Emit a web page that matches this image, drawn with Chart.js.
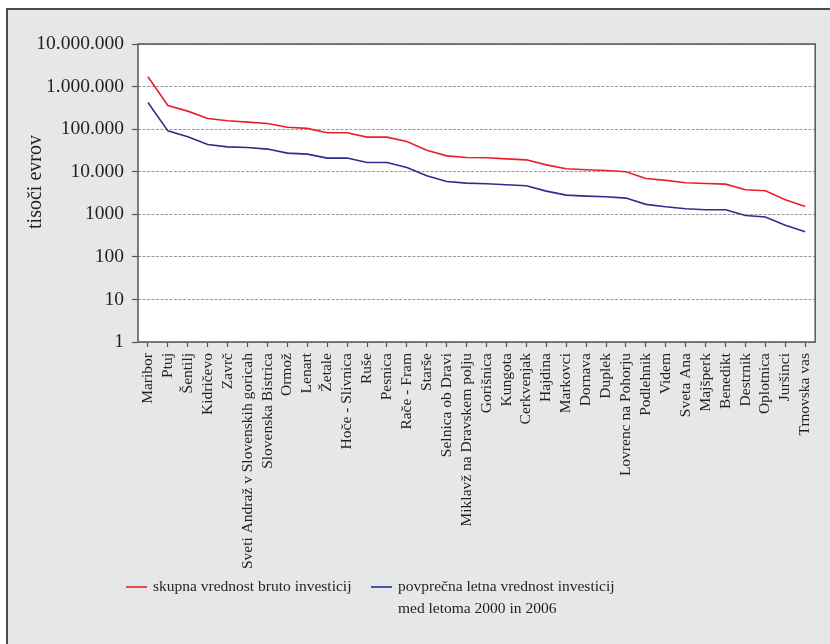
<!DOCTYPE html>
<html>
<head>
<meta charset="utf-8">
<script src="https://cdn.jsdelivr.net/npm/chart.js@4/dist/chart.umd.min.js"></script>
<style>
    html, body { margin: 0; padding: 0; background: #ffffff; }
    #frame {
        position: absolute; left: 6px; top: 8px;
        width: 824px; height: 636px; box-sizing: border-box;
        background: #e6e7e8;
        border-left: 2px solid #4a4a4a; border-top: 2px solid #4a4a4a;
    }
    #chart { display: block; }
</style>
</head>
<body>
<div id="frame"><canvas id="chart" width="822" height="634"></canvas></div>
<script>
// data
const categories = ['Maribor', 'Ptuj', 'Šentilj', 'Kidričevo', 'Zavrč', 'Sveti Andraž v Slovenskih goricah',
    'Slovenska Bistrica', 'Ormož', 'Lenart', 'Žetale', 'Hoče - Slivnica', 'Ruše', 'Pesnica', 'Rače - Fram',
    'Starše', 'Selnica ob Dravi', 'Miklavž na Dravskem polju', 'Gorišnica', 'Kungota', 'Cerkvenjak', 'Hajdina',
    'Markovci', 'Dornava', 'Duplek', 'Lovrenc na Pohorju', 'Podlehnik', 'Videm', 'Sveta Ana', 'Majšperk',
    'Benedikt', 'Destrnik', 'Oplotnica', 'Juršinci', 'Trnovska vas'];

const totalInvest = [1700000, 360000, 265000, 178000, 157000, 146000, 136000, 111000, 104000, 82000,
    82000, 65000, 65000, 51000, 32000, 23600, 21600, 21200, 20000, 19000, 14500, 11700, 11100, 10700,
    9950, 6950, 6250, 5500, 5300, 5100, 3760, 3560, 2190, 1530];

const avgInvest = [424000, 91000, 66000, 43700, 38400, 37200, 34000, 27300, 25900, 20900,
    20900, 16500, 16500, 12600, 8000, 5900, 5400, 5200, 4930, 4670, 3500, 2820, 2670, 2580,
    2400, 1710, 1500, 1350, 1280, 1280, 940, 860, 550, 389];

const yTicks = [1, 10, 100, 1000, 10000, 100000, 1000000, 10000000];
const yTickLabels = ['1', '10', '100', '1000', '10.000', '100.000', '1.000.000', '10.000.000'];

const yTitle = 'tisoči evrov';
const legendTotal = ['skupna vrednost bruto investicij'];
const legendAvg = ['povprečna letna vrednost investicij', 'med letoma 2000 in 2006'];

const serif = '"Liberation Serif", "DejaVu Serif", serif';
const textColor = '#231f20';

// plot background, frame, y title and legend
const decor = {
    id: 'decor',
    beforeDraw(chart) {
        const a = chart.chartArea, ctx = chart.ctx;
        ctx.save();
        ctx.fillStyle = '#ffffff';
        ctx.fillRect(a.left, a.top, a.right - a.left, a.bottom - a.top);
        ctx.restore();
    },
    beforeDatasetsDraw(chart) {
        const a = chart.chartArea, ctx = chart.ctx;
        ctx.save();
        ctx.strokeStyle = '#555555';
        ctx.lineWidth = 1.5;
        ctx.strokeRect(a.left, a.top, a.right - a.left, a.bottom - a.top);
        ctx.restore();
    },
    afterDraw(chart) {
        const ctx = chart.ctx;
        ctx.save();
        ctx.fillStyle = textColor;
        // y title
        ctx.font = '20px ' + serif;
        ctx.translate(28, 172);
        ctx.rotate(-Math.PI / 2);
        ctx.textAlign = 'center';
        ctx.textBaseline = 'middle';
        ctx.fillText(yTitle, 0, 0);
        ctx.restore();

        // legend
        const items = [
            { x: 118, lines: legendTotal, ds: chart.data.datasets[0] },
            { x: 363, lines: legendAvg, ds: chart.data.datasets[1] }
        ];
        const y0 = 577, lh = 22;
        ctx.save();
        ctx.font = '15.5px ' + serif;
        ctx.textBaseline = 'middle';
        ctx.textAlign = 'left';
        items.forEach(it => {
            ctx.strokeStyle = it.ds.borderColor;
            ctx.lineWidth = 1.6;
            ctx.beginPath();
            ctx.moveTo(it.x, y0);
            ctx.lineTo(it.x + 21, y0);
            ctx.stroke();
            ctx.fillStyle = textColor;
            it.lines.forEach((t, i) => ctx.fillText(t, it.x + 27, y0 + i * lh));
        });
        ctx.restore();
    }
};

new Chart(document.getElementById('chart'), {
    type: 'line',
    data: {
        labels: categories,
        datasets: [
            {
                label: legendTotal.join(' '),
                data: totalInvest,
                borderColor: '#e8202a',
                borderWidth: 1.6,
                pointRadius: 0,
                tension: 0
            },
            {
                label: legendAvg.join(' '),
                data: avgInvest,
                borderColor: '#2b2e8c',
                borderWidth: 1.6,
                pointRadius: 0,
                tension: 0
            }
        ]
    },
    options: {
        responsive: false,
        animation: false,
        layout: { padding: { left: 0, right: 12, top: 34, bottom: 0 } },
        plugins: {
            legend: { display: false },
            tooltip: { enabled: false }
        },
        scales: {
            x: {
                type: 'category',
                offset: true,
                grid: {
                    offset: false,
                    drawOnChartArea: false,
                    tickLength: 5,
                    tickColor: '#555555',
                    tickWidth: 1.2
                },
                border: { display: false },
                ticks: {
                    autoSkip: false,
                    minRotation: 90,
                    maxRotation: 90,
                    padding: 6,
                    color: textColor,
                    font: { family: serif, size: 15.5 }
                },
                afterFit(scale) { scale.height = 302; }
            },
            y: {
                type: 'logarithmic',
                min: 1,
                max: 10000000,
                grid: {
                    color: '#9a9a9a',
                    lineWidth: 1,
                    tickLength: 6,
                    tickColor: '#555555',
                    tickWidth: 1.2,
                    tickBorderDash: []
                },
                border: { display: false, dash: [3, 1.5] },
                ticks: {
                    padding: 8,
                    color: textColor,
                    font: { family: serif, size: 19.5 },
                    callback: (v) => {
                        const i = yTicks.indexOf(v);
                        return i >= 0 ? yTickLabels[i] : '';
                    }
                },
                afterBuildTicks(scale) {
                    scale.ticks = yTicks.map(v => ({ value: v, major: true }));
                },
                afterFit(scale) { scale.width = 130; }
            }
        }
    },
    plugins: [decor]
});
</script>
</body>
</html>
